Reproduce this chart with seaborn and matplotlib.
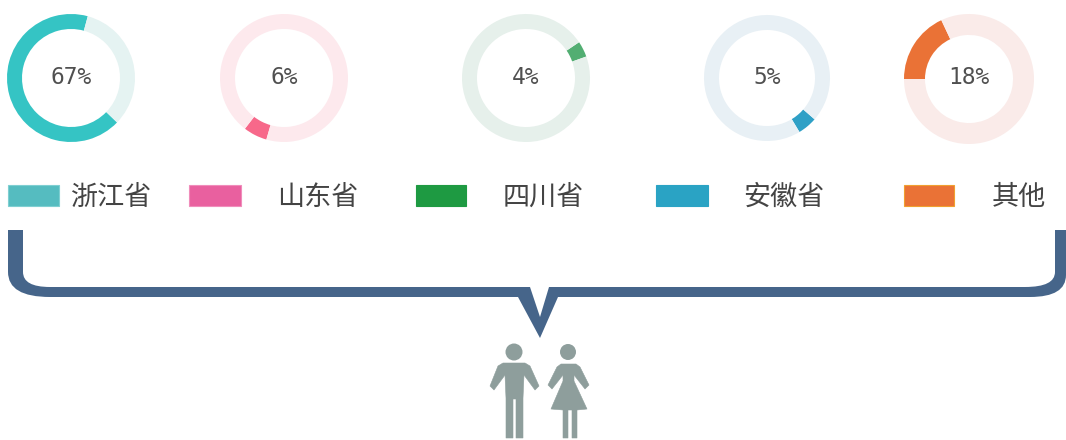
import matplotlib
matplotlib.use('Agg')
import matplotlib.pyplot as plt
from matplotlib.patches import Circle, PathPatch, Polygon, Rectangle
from matplotlib.path import Path
import seaborn as sns

sns.set_theme(style='white')
plt.rcParams['font.family'] = ['Noto Sans CJK SC', 'DejaVu Sans']

# the shares, one ring each
provinces = ['浙江省', '山东省', '四川省', '安徽省', '其他']
shares = [67, 6, 4, 5, 18]
ring_colors = ['#35C4C4', '#F7688A', '#52AE72', '#2FA0C6', '#EA7236']
track_colors = ['#E5F3F2', '#FDE9ED', '#E6F0EB', '#E8F0F5', '#FAEBE9']
swatch_colors = ['#55BCC0', '#E9609F', '#1E9A42', '#2AA3C4', '#EA7236']
swatch_edges = ['#7FCFD2', '#F08DBB', '#1E9A42', '#2AA3C4', '#F0A030']

# layout in pixels, y measured from the top
centers = [(71, 78), (284, 78), (526, 78), (767, 78), (969, 79)]
text_x = [71, 284, 526, 767, 969]
radii = [64, 64, 64, 63, 65]
widths = [15, 15, 15, 15, 21]
# clockwise degrees from 12 o'clock where the colored arc begins
starts = [134, 196, 56, 131, 270]
swatches = [(8, 51), (189, 52), (416, 50), (656, 52), (904, 50)]
label_x = [111, 318, 543, 784, 1019]

W, H = 1066, 440
fig = plt.figure(figsize=(W / 100, H / 100), dpi=100)
ax = fig.add_axes([0, 0, 1, 1])


def py(y):
    return H - y


def pts(*xy):
    return [(x, py(y)) for x, y in xy]


for i, share in enumerate(shares):
    cx, cy = centers[i]
    # pie runs counterclockwise, so the arc start is worked out from its clockwise end
    ax.pie([share, 100 - share], colors=[ring_colors[i], track_colors[i]],
           center=(cx, py(cy)), radius=radii[i], startangle=90 - starts[i] - share * 3.6,
           wedgeprops={'width': widths[i], 'linewidth': 0})
    ax.text(text_x[i], py(77.5), f'{share}%', ha='center', va='center', fontsize=16.5,
            color='#505050', family=['DejaVu Sans Mono'])

    x0, w = swatches[i]
    ax.add_patch(Rectangle((x0, py(206.5)), w, 21, facecolor=swatch_colors[i],
                           edgecolor=swatch_edges[i], linewidth=0.8))
    ax.text(label_x[i], py(197), provinces[i], ha='center', va='center',
            fontsize=19.5, color='#444444')

# brace, outer edge first and then back along the inner edge
brace_verts = pts((8, 230), (8, 272), (8, 297), (50, 297), (518, 297), (540, 338), (558, 297),
                  (1030, 297), (1066, 297), (1066, 275), (1066, 230), (1055, 230),
                  (1055, 272), (1055, 287), (1025, 287), (549, 287), (540, 317), (530, 287),
                  (50, 287), (23, 287), (23, 272), (23, 230), (8, 230))
brace_codes = [Path.MOVETO, Path.LINETO, Path.CURVE3, Path.CURVE3, Path.LINETO, Path.LINETO, Path.LINETO,
               Path.LINETO, Path.CURVE3, Path.CURVE3, Path.LINETO, Path.LINETO,
               Path.LINETO, Path.CURVE3, Path.CURVE3, Path.LINETO, Path.LINETO, Path.LINETO,
               Path.LINETO, Path.CURVE3, Path.CURVE3, Path.LINETO, Path.CLOSEPOLY]
ax.add_patch(PathPatch(Path(brace_verts, brace_codes), facecolor='#46658A', edgecolor='none'))

# man and woman
grey = '#8E9E9C'
figure_style = {'facecolor': grey, 'edgecolor': grey, 'linewidth': 0.4, 'joinstyle': 'round'}
ax.add_patch(Circle((514, py(352)), 8.5, facecolor=grey, edgecolor='none'))
ax.add_patch(Polygon(pts((503, 363), (525, 363), (530, 366), (539, 386), (535, 390),
                         (524, 375), (523, 398), (523, 438), (516, 438), (516, 399),
                         (513, 399), (513, 438), (506, 438), (506, 398), (505, 375),
                         (494, 390), (490, 386), (498, 366)), **figure_style))
ax.add_patch(Circle((568, py(352)), 8, facecolor=grey, edgecolor='none'))
ax.add_patch(Polygon(pts((561, 364), (576, 364), (580, 367), (589, 385), (585, 389),
                         (574, 375), (574, 381), (587, 409), (577, 410), (577, 438),
                         (572, 438), (572, 410), (568, 410), (568, 438), (563, 438),
                         (563, 410), (551, 409), (563, 381), (563, 375), (552, 389),
                         (548, 385), (557, 367)), **figure_style))

ax.set_xlim(0, W)
ax.set_ylim(0, H)
ax.set_aspect('equal')
ax.axis('off')
fig.savefig('out.png', dpi=100, facecolor='white')
